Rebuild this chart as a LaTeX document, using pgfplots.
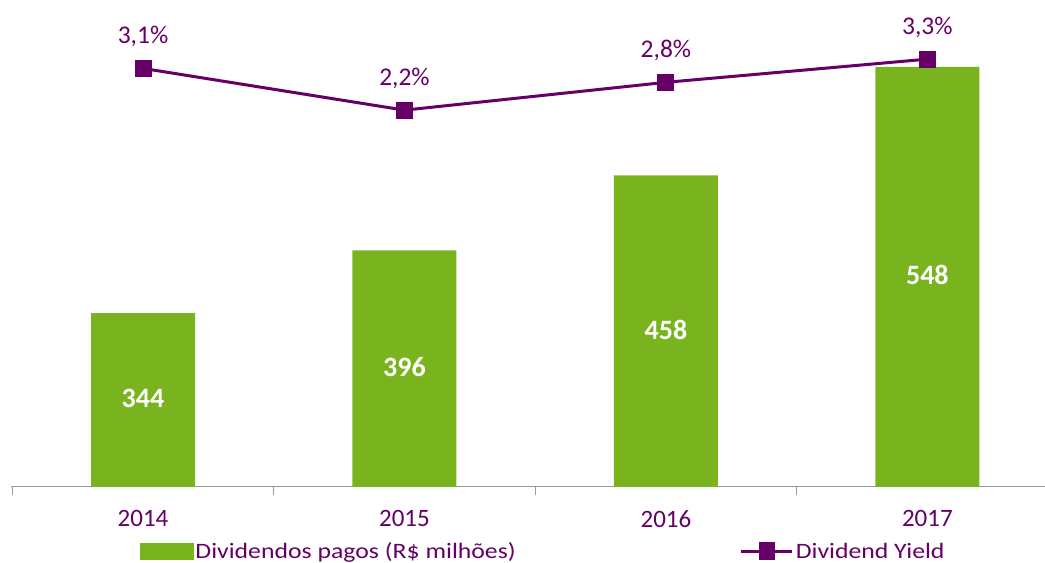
\documentclass[border=0pt]{standalone}
\usepackage{pgfplots}
\pgfplotsset{compat=1.18}
\usepackage{fontspec}
\setmainfont{Carlito}
\newfontfamily\legfont[FakeStretch=1.17]{Carlito}
\definecolor{barg}{HTML}{79B41F}
\definecolor{purp}{HTML}{660066}
\begin{document}
\begin{tikzpicture}
\begin{axis}[
  name=ax,
  scale only axis, width=1034pt, height=483pt,
  xmin=-0.505, xmax=3.45, ymin=200, ymax=600,
  axis y line=none,
  axis x line*=bottom,
  x axis line style={draw=gray!80, line width=1pt, -},
  xtick={0,1,2,3}, xticklabels={2014,2015,2016,2017},
  major tick length=0pt,
  minor xtick={-0.5,0.5,1.5,2.5},
  minor tick length=8pt, tick align=outside,
  minor tick style={draw=gray!80, line width=1pt},
  xticklabel style={font=\fontsize{25}{30}\selectfont, text=purp, yshift=-20pt},
  clip=false,
]
\addplot[ybar, bar width=104pt, fill=barg, draw=none, bar shift=0pt,
  point meta=explicit symbolic,
  visualization depends on={rawy \as \ry},
  nodes near coords,
  every node near coord/.append style={anchor=center, text=white, font=\fontsize{28}{33}\selectfont\bfseries, yshift={-(\ry-200)*0.60375pt+1.5pt}},
] coordinates {(0,344) [344] (1,396) [396] (2,458) [458] (3,548) [548]};
\end{axis}
\begin{axis}[
  scale only axis, width=1034pt, height=483pt,
  xmin=-0.505, xmax=3.45, ymin=-5.93, ymax=4.49,
  axis x line=none, axis y line=none,
  clip=false,
  legend columns=2,
  legend style={draw=none, fill=none, at={(rel axis cs:0.1248,-0.133)}, anchor=west,
    font=\legfont\fontsize{22}{26}\selectfont, text=purp,
    /tikz/every even column/.append style={column sep=222pt},
    inner sep=0pt, outer sep=0pt},
  legend cell align=left,
]
\addlegendimage{legend image code/.code={\fill[barg] (0pt,-8pt) rectangle (53pt,8pt);}}
\addlegendentry{Dividendos pagos\hspace{6pt}(R\$ milhões)}
\addplot[color=purp, line width=3pt, mark=square*, mark size=7pt,
  mark options={solid, fill=purp},
  point meta=explicit symbolic, nodes near coords,
  every node near coord/.append style={anchor=south, text=purp, font=\fontsize{25.5}{30}\selectfont, yshift=16.5pt},
  legend image code/.code={\draw[purp, line width=3pt] (0pt,0pt) -- (51pt,0pt); \fill[purp] (19pt,-7.5pt) rectangle (32pt,7.5pt);},
] coordinates {(0,3.1) [3,1\%] (1,2.2) [2,2\%] (2,2.8) [2,8\%] (3,3.3) [3,3\%]};
\addlegendentry{Dividend Yield}
\end{axis}
\pgfresetboundingbox
\path (ax.south west) ++(-11pt,-76pt) coordinate (bl);
\path (ax.north east) ++(0pt,4pt) coordinate (tr);
\useasboundingbox (bl) rectangle (tr);
\end{tikzpicture}
\end{document}
